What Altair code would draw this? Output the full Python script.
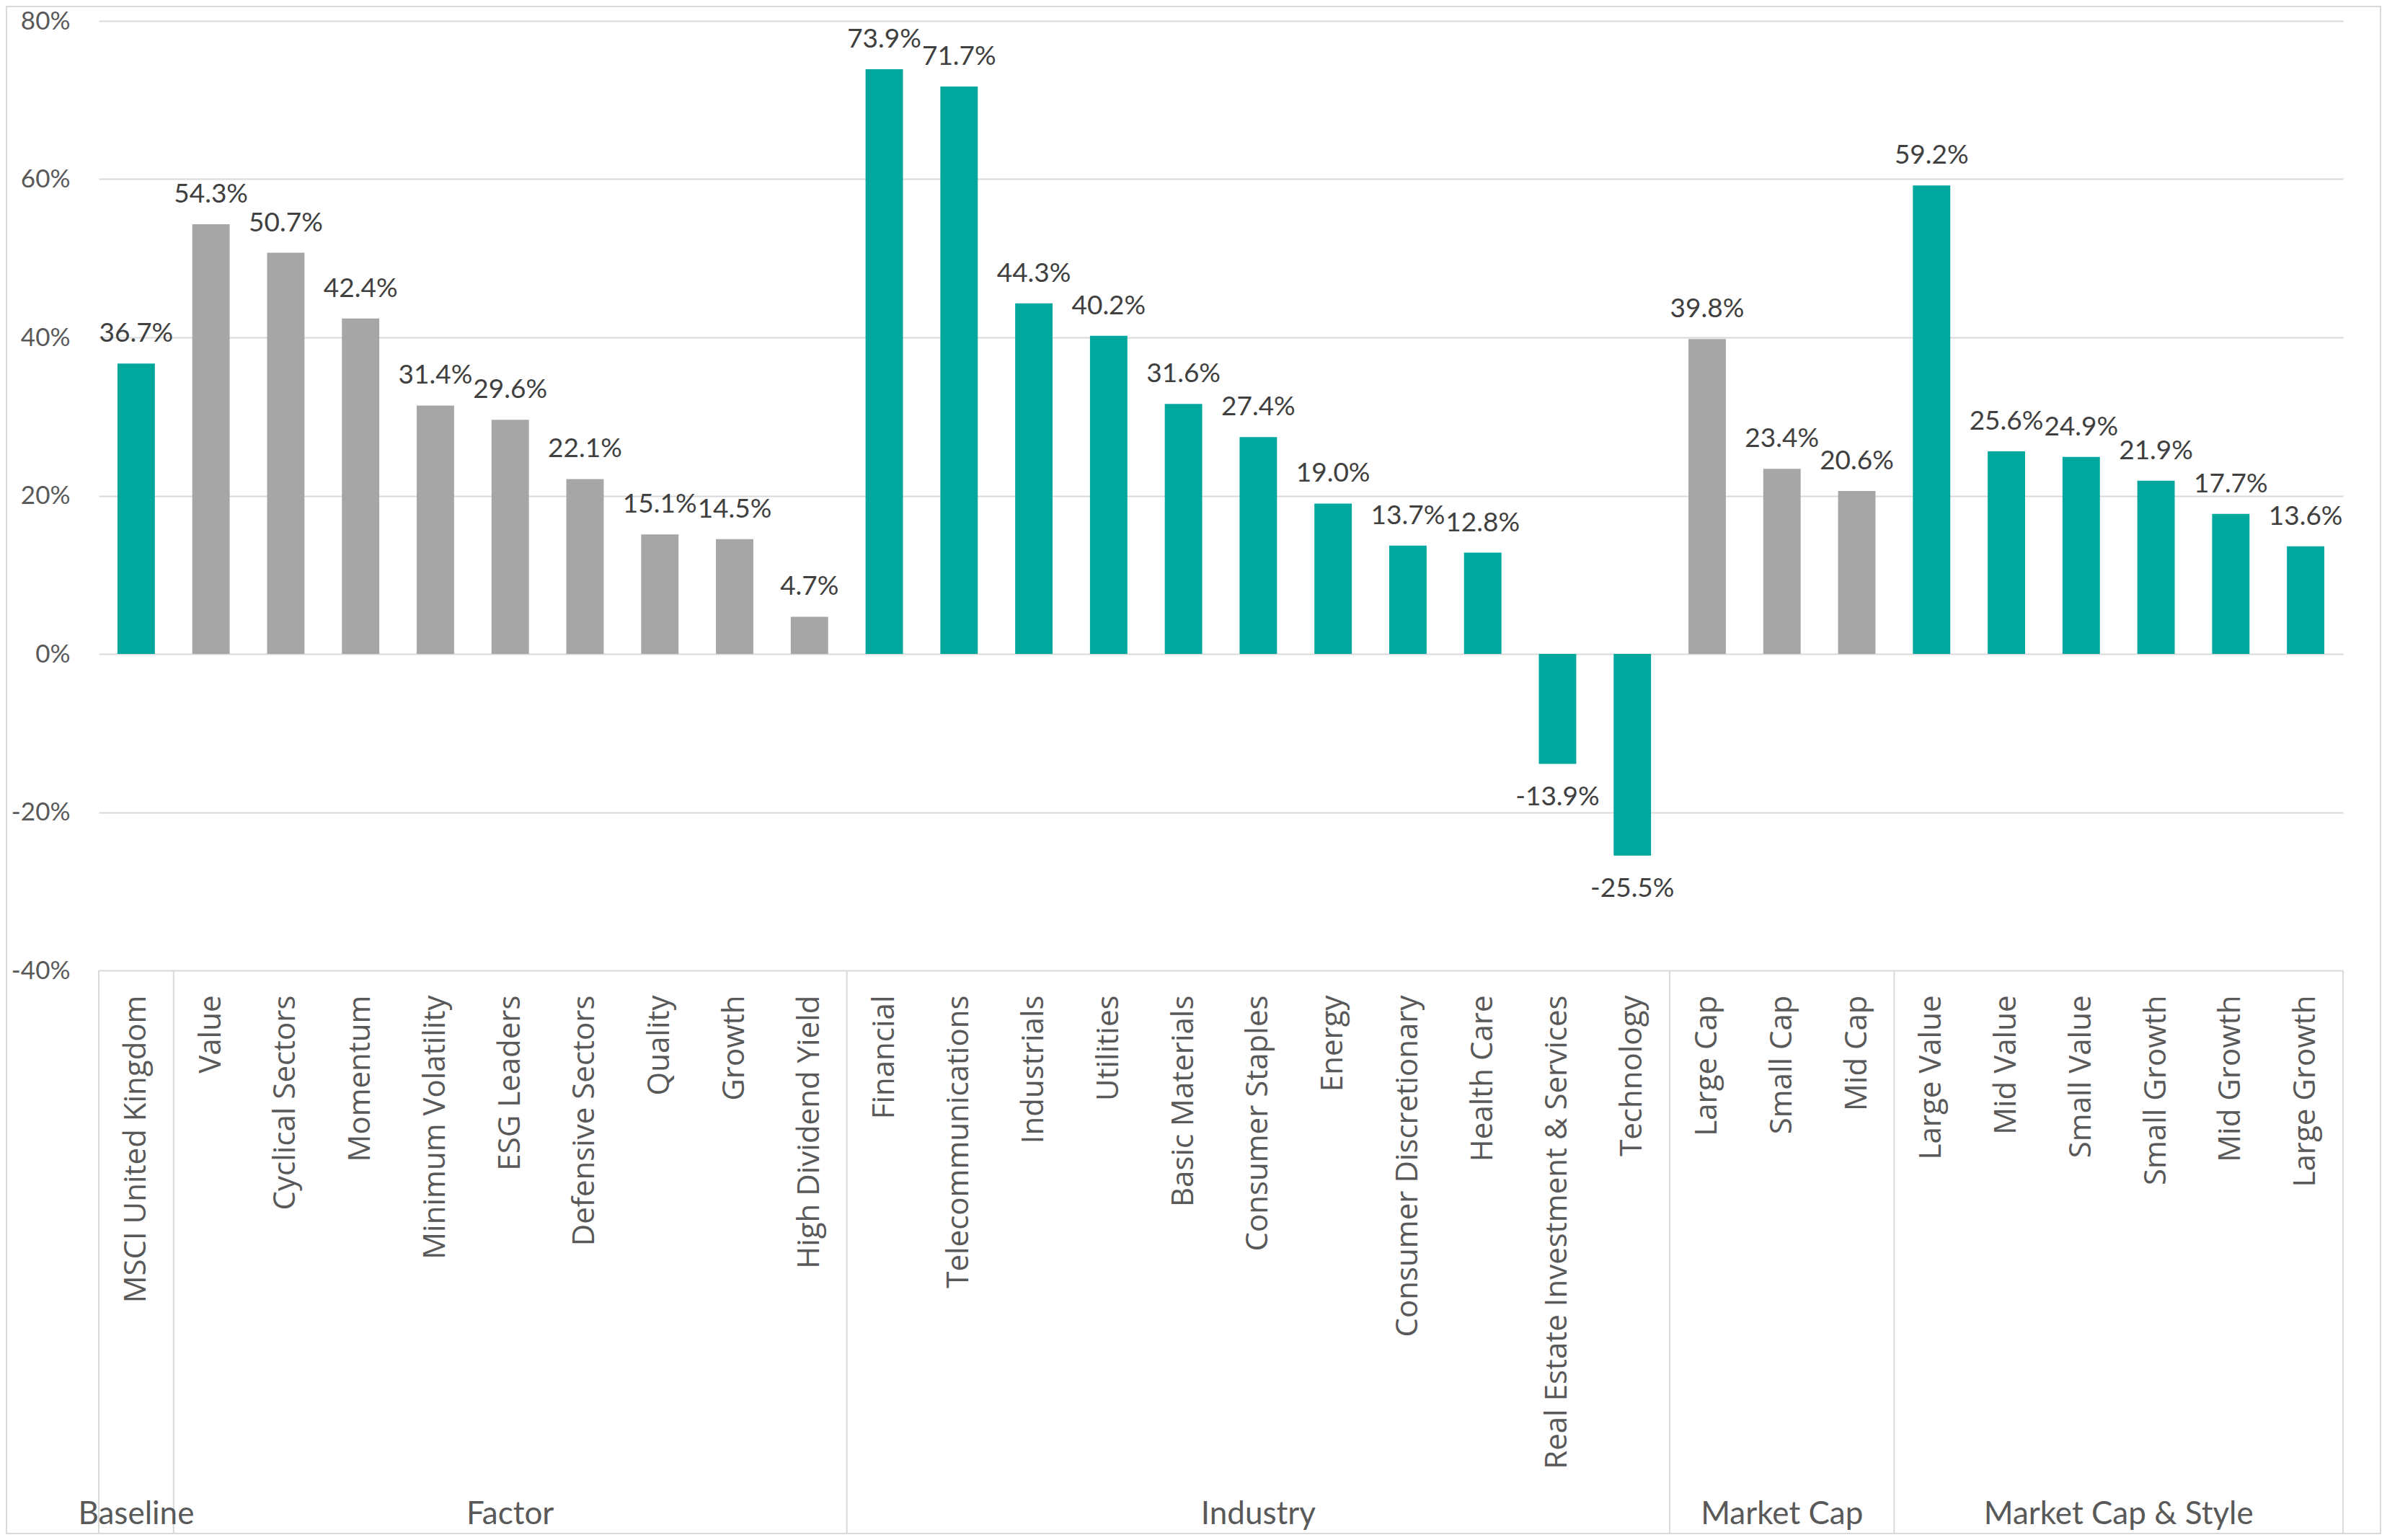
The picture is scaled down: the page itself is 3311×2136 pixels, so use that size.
import pandas as pd
import altair as alt

# groups on the lower category level, with their bar colour
groups = ["Baseline", "Factor", "Industry", "Market Cap", "Market Cap & Style"]
group_colors = ["#00A79D", "#A6A6A6", "#00A79D", "#A6A6A6", "#00A79D"]

baseline = ["MSCI United Kingdom"]
baseline_vals = [36.7]

factor = ["Value", "Cyclical Sectors", "Momentum", "Minimum Volatility", "ESG Leaders",
          "Defensive Sectors", "Quality", "Growth", "High Dividend Yield"]
factor_vals = [54.3, 50.7, 42.4, 31.4, 29.6, 22.1, 15.1, 14.5, 4.7]

industry = ["Financial", "Telecommunications", "Industrials", "Utilities", "Basic Materials",
            "Consumer Staples", "Energy", "Consumer Discretionary", "Health Care",
            "Real Estate Investment & Services", "Technology"]
industry_vals = [73.9, 71.7, 44.3, 40.2, 31.6, 27.4, 19.0, 13.7, 12.8, -13.9, -25.5]

market_cap = ["Large Cap", "Small Cap", "Mid Cap"]
market_cap_vals = [39.8, 23.4, 20.6]

style = ["Large Value", "Mid Value", "Small Value", "Small Growth", "Mid Growth", "Large Growth"]
style_vals = [59.2, 25.6, 24.9, 21.9, 17.7, 13.6]

members = [baseline, factor, industry, market_cap, style]
values = [baseline_vals, factor_vals, industry_vals, market_cap_vals, style_vals]

rows = []
for g, cats, vals in zip(groups, members, values):
    for c, v in zip(cats, vals):
        rows.append({"category": c, "value": v, "group": g, "label": f"{v:.1f}%"})
df = pd.DataFrame(rows)
categories = list(df["category"])

# group separators sit on the left edge of each group's first category
seps = pd.DataFrame({"category": [m[0] for m in members]})
seps_end = pd.DataFrame({"category": [members[-1][-1]]})

# group labels: odd groups centred on the middle category, even ones on a boundary
odd = pd.DataFrame([{"category": m[len(m) // 2], "group": g}
                    for g, m in zip(groups, members) if len(m) % 2 == 1])
even = pd.DataFrame([{"category": m[len(m) // 2], "group": g}
                     for g, m in zip(groups, members) if len(m) % 2 == 0])

W = 3113
H = 1317
TOP = -20
BOTTOM = 2098
GREY_TXT = "#595959"
LINE = "#D9D9D9"

xscale = alt.Scale(domain=categories, paddingInner=0, paddingOuter=0)
xaxis = alt.Axis(title=None, labelAngle=-90, labelPadding=34, labelFontSize=42,
                 labelFont="Open Sans", labelColor=GREY_TXT, domain=False,
                 ticks=False, grid=False, labelLimit=1200, labelOverlap=False)


def xenc(band=0.5):
    return alt.X("category:N", scale=xscale, sort=None, axis=xaxis, bandPosition=band)


border = alt.Chart(pd.DataFrame({"k": [0]})).mark_rect(
    fill="transparent", stroke=LINE, strokeWidth=2
).encode(
    x=alt.value(-128), x2=alt.value(3165), y=alt.value(TOP), y2=alt.value(BOTTOM)
)

bars = alt.Chart(df).mark_bar(width=alt.RelativeBandSize(0.5)).encode(
    x=alt.X("category:N", scale=xscale, sort=None, axis=xaxis),
    y=alt.Y("value:Q", scale=alt.Scale(domain=[-40, 80], nice=False, zero=False),
            axis=alt.Axis(title=None, values=[-40, -20, 0, 20, 40, 60, 80],
                          labelExpr="datum.value + '%'", labelFontSize=35, labelFont="Lato",
                          labelColor=GREY_TXT, labelPadding=40, domain=False, ticks=False,
                          gridColor=LINE, gridWidth=2)),
    color=alt.Color("group:N", scale=alt.Scale(domain=groups, range=group_colors), legend=None),
)

pos = alt.Chart(df).transform_filter("datum.value >= 0").mark_text(
    baseline="alphabetic", dy=-30, fontSize=37, font="Lato", color="#404040"
).encode(x=xenc(), y="value:Q", text="label:N")

neg = alt.Chart(df).transform_filter("datum.value < 0").mark_text(
    baseline="top", dy=28, fontSize=37, font="Lato", color="#404040"
).encode(x=xenc(), y="value:Q", text="label:N")

sep = alt.Chart(seps).mark_rule(color=LINE, strokeWidth=2).encode(
    x=xenc(0), y=alt.value(H), y2=alt.value(BOTTOM),
)
sep_end = alt.Chart(seps_end).mark_rule(color=LINE, strokeWidth=2).encode(
    x=xenc(1), y=alt.value(H), y2=alt.value(BOTTOM),
)

glab_odd = alt.Chart(odd).mark_text(fontSize=44, font="Lato", color=GREY_TXT, baseline="middle").encode(
    x=xenc(0.5), y=alt.value(BOTTOM - 26), text="group:N",
)
glab_even = alt.Chart(even).mark_text(fontSize=44, font="Lato", color=GREY_TXT, baseline="middle").encode(
    x=xenc(0), y=alt.value(BOTTOM - 26), text="group:N",
)

chart = alt.layer(border, bars, pos, neg, sep, sep_end, glab_odd, glab_even).properties(
    width=W, height=H, padding=0
).configure_view(stroke=None)

chart.save("out.html", embed_options={"renderer": "svg", "actions": False})
